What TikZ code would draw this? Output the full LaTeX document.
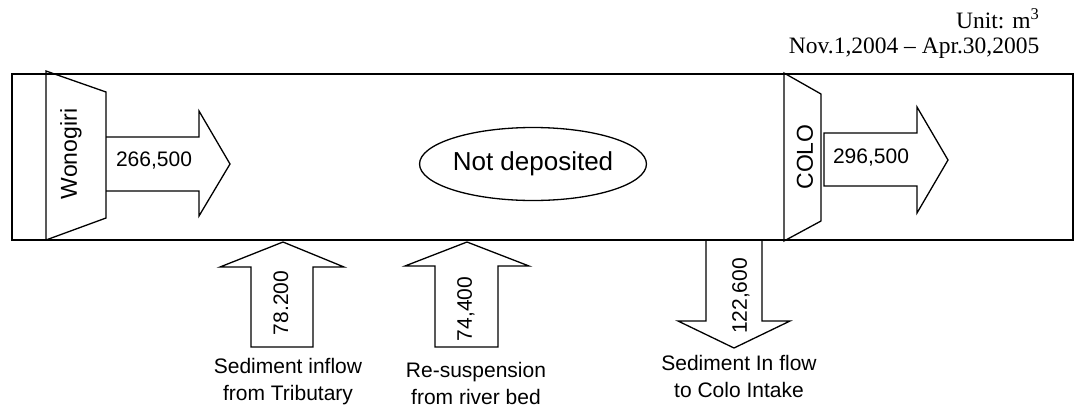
\documentclass[tikz,border=0pt]{standalone}
\usepackage{fontspec}
\setmainfont{Liberation Serif}
\setsansfont{Liberation Sans}
\usetikzlibrary{shapes.geometric}

\begin{document}
\begin{tikzpicture}[x=1pt,y=-1pt,line width=1.3pt,line join=miter]
\tikzset{num/.style={font=\sffamily\fontsize{21}{25}\selectfont,inner sep=0pt},lb/.style={font=\sffamily\fontsize{21}{27}\selectfont,align=center,inner sep=0pt},tm/.style={font=\fontsize{23.5}{27}\selectfont,anchor=east,inner sep=0pt}}
\useasboundingbox (0,0) rectangle (1074,408);
% header
\node[tm] (unit) at (1040,19) {Unit: m\textsuperscript{3}};
\node[tm] (per) at (1040,48) {Nov.1,2004 -- Apr.30,2005};
% river reach
\draw (12,74) rectangle (1073,240);
% upstream and downstream dams
\draw (46,71)--(106,92)--(106,218)--(46,240)--cycle; \node[num,font=\sffamily\fontsize{23}{27}\selectfont,rotate=90] (wg) at (71,154) {Wonogiri};
\draw (784,73)--(821,94)--(821,221)--(784,241)--cycle; \node[num,font=\sffamily\fontsize{23}{27}\selectfont,rotate=90] (colo) at (805,157) {COLO};
% outflow arrows
\draw (106,137)--(199,137)--(199,111)--(230,164)--(199,216)--(199,191)--(106,191); \node[num] (qin) at (154,161) {266,500};
\draw (824,133)--(917,133)--(917,107)--(948,160)--(917,213)--(917,186)--(824,186)--cycle; \node[num] (qout) at (871,158) {296,500};
\node[num,font=\sffamily\fontsize{26}{30}\selectfont,draw,ellipse,minimum width=225pt,minimum height=73pt] (nd) at (533,164) {Not deposited};
% lateral arrows
\draw (283,242)--(344,267)--(313,267)--(313,347)--(251,347)--(251,267)--(220,267)--cycle; \node[num,rotate=90] (qt) at (281,303) {78.200};
\draw (467,242)--(529,266)--(498,266)--(498,347)--(435,347)--(435,266)--(405,266)--cycle; \node[num,rotate=90] (qr) at (466,309) {74,400};
\draw (706,241)--(706,321)--(678,321)--(734,348)--(790,321)--(762,321)--(762,241); \node[num,rotate=90] (qc) at (741,296) {122,600};
\node[lb] (lt) at (288,382) {Sediment inflow\\from Tributary};
\node[lb] (lr) at (476,383) {Re-suspension\\from river bed};
\node[lb] (lc) at (739,376) {Sediment In flow\\to Colo Intake};
\end{tikzpicture}
\end{document}
